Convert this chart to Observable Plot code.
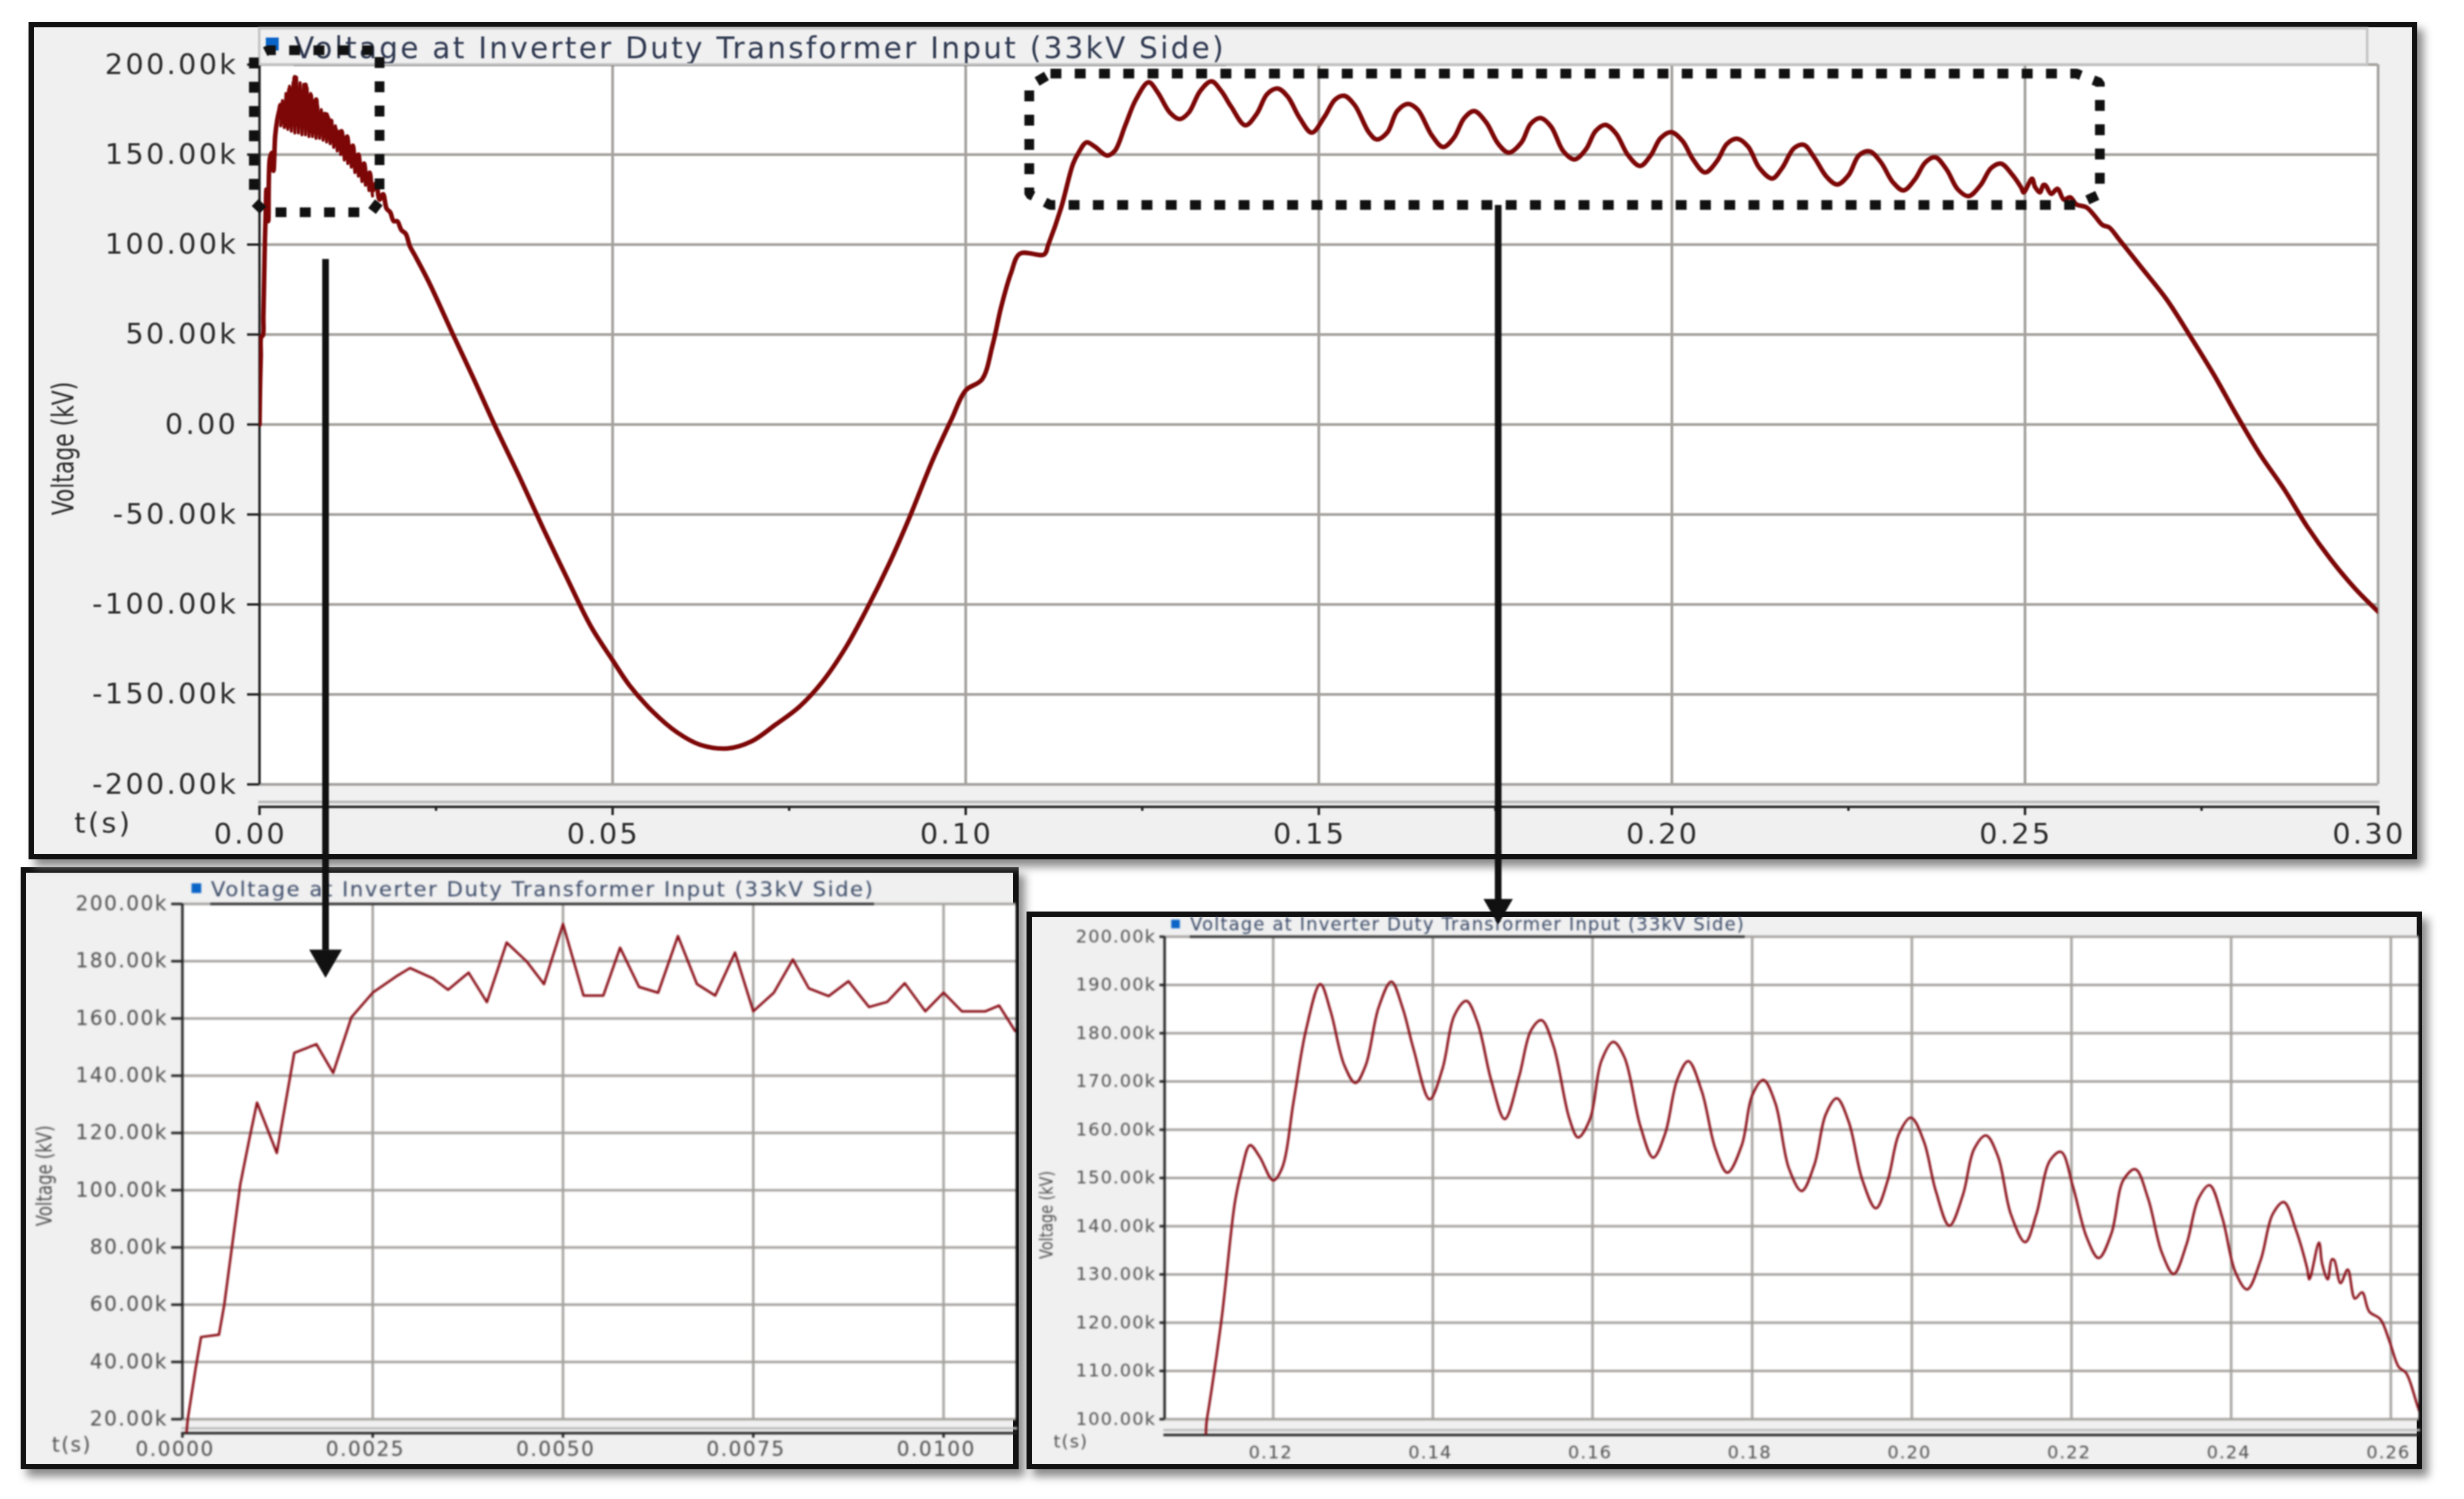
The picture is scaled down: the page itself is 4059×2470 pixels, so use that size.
<!DOCTYPE html>
<html>
<head>
<meta charset="utf-8">
<script src="https://cdn.jsdelivr.net/npm/d3@7"></script>
<script src="https://cdn.jsdelivr.net/npm/@observablehq/plot@0.6"></script>
<style>
html,body{margin:0;padding:0;background:#fff;width:4059px;height:2470px;overflow:hidden}
#page{position:relative;width:4059px;height:2470px}
.panel{position:absolute;box-sizing:border-box;background:#f0f0f0;border:9px solid #111;box-shadow:10px 12px 14px #8a8a8a}
.holder{position:absolute}
.holder svg{display:block;overflow:visible;background:transparent;max-width:none}
.soft svg{filter:blur(1.2px)}
.softer svg{filter:blur(1.5px)}
</style>
</head>
<body>
<div id="page"></div>
<script>
const legendText = "Voltage at Inverter Duty Transformer Input (33kV Side)";
const yLabel = "Voltage (kV)";
const xLabel = "t(s)";

// time (s) and voltage (kV)
const riseT = [0,0.00007,0.000175,0.000245,0.00048,0.00055,0.00066,0.00076,0.00088,0.00098,0.00124,0.00147,0.00176,0.00198,0.00222,0.0025,0.00281,0.00299,0.00329,0.00349,0.00376,0.004,0.00426,0.00452,0.00475,0.005,0.00527,0.00553,0.00575,0.006,0.00625,0.00651,0.00676,0.007,0.00726,0.0075,0.00777,0.00802,0.00823,0.00849,0.00875,0.00902,0.00926,0.00949,0.00976,0.01,0.01024,0.01055,0.01073,0.01094];
const riseV = [0,20,38,48.7,49.5,60,82,102,118,130.6,113,148,151,141,160.4,169,174.7,177.6,174,170,176,165.7,186.5,180,172,193,168,168,184.7,171,169,188.8,172,168,183,162.5,169,180.6,170.5,167.8,173,164,165.8,172.3,162.5,169,162.5,162.5,164.5,155.6];

const fallT = [0.0112,0.0116,0.012,0.0124,0.0128,0.0132,0.0136,0.014,0.0144,0.0148,0.0152,0.0156,0.016,0.0165,0.017,0.0175,0.018,0.0185,0.019,0.0195,0.0201,0.0207,0.0213,0.022,0.024,0.0274,0.0302,0.0335,0.0368,0.0402,0.0435,0.0469,0.05,0.0524,0.0558,0.0591,0.0624,0.0663,0.0697,0.073,0.0764,0.0797,0.083,0.0858,0.0892,0.092,0.0953,0.098,0.1,0.1023,0.1038,0.105,0.1064,0.1077,0.1111];
const fallV = [158,163,152,160,148,155,143,150,139,145,134,140,130,134,125,128,120,118,113,113,108,106,99,94,79,50,26.5,-2,-29,-58,-85,-112,-131,-145,-160,-171,-178,-180,-176,-167,-157,-143,-124,-104,-77,-52,-20,3,19,25,44,65,84,95,94.5];

const crestT = [0.1117,0.1135,0.1152,0.116,0.1171,0.1183,0.12,0.1211,0.1226,0.1241,0.1259,0.1272,0.1289,0.1303,0.1316,0.1332,0.1348,0.1362,0.1376,0.1396,0.1412,0.1427,0.1442,0.1456,0.1473,0.149,0.1508,0.1523,0.1536,0.1551,0.1571,0.1582,0.1597,0.1611,0.1626,0.164,0.166,0.1676,0.1691,0.1706,0.172,0.1737,0.1754,0.1769,0.1787,0.18,0.1814,0.1829,0.1846,0.1862,0.1878,0.1892,0.1906,0.1921,0.1938,0.1955,0.197,0.1984,0.1999,0.2015,0.203,0.2047,0.2064,0.2078,0.2093,0.2108,0.2124,0.2142,0.2156,0.2173,0.2187,0.2202,0.2219,0.2234,0.225,0.2265,0.228,0.2296,0.2313,0.2328,0.2344,0.2359,0.2373,0.2389,0.2405,0.242,0.2437,0.2452,0.2466,0.2481,0.2495,0.2498,0.251,0.2514,0.2521,0.2526,0.2529,0.2537,0.2546,0.2555,0.2564,0.2573,0.2587,0.2598,0.261,0.2619,0.2634];
const crestV = [100,120.3,144.9,151.2,156.8,154.4,149.5,152,166.3,180.6,190.2,184.5,173.4,169.7,173.4,185.3,190.7,185.3,176.6,166.3,172.6,183.7,186.7,182.2,170.3,162.2,171,180.6,182.7,177.4,162.3,158.4,162.3,174.2,178.2,175,160.7,154.2,159.2,170.3,174.2,167.9,156,151.1,156.8,167.1,170.3,165.5,152,147.3,152.8,163.1,166.5,161.6,149.6,143.7,149.6,159.2,162.5,157.6,147.3,140.1,146.5,156,158.8,154.4,142.5,136.7,142.5,153.6,155.4,148.1,137.7,133.4,138.5,149.6,151.8,145.7,134.6,130.1,136.2,145.7,148.5,141.7,130.6,126.9,133,142.5,145,139.3,131.4,129,136.6,132.2,129,133.1,133,128.2,131,125,126.3,122.3,120.7,116.3,110.8,109.6,102.5];

const tailT = [0.2666,0.27,0.2733,0.2767,0.28,0.2833,0.2867,0.29,0.2933,0.2967,0.3];
const tailV = [86.7,69.8,49.7,28,5,-16.7,-36,-57,-75,-91,-104];

// the dense ripple seen only at the top chart's coarser scale
const rippleT = [0.003,0.00325,0.0035,0.00375,0.004,0.00425,0.0045,0.00475,0.005,0.00525,0.0055,0.00575,0.006,0.00625,0.0065,0.00675,0.007,0.00725,0.0075,0.00775,0.008,0.00825,0.0085,0.00875,0.009,0.00925,0.0095,0.00975,0.01,0.01025,0.0105,0.01075,0.011,0.01125,0.0115,0.01175,0.012,0.01225,0.0125,0.01275,0.013,0.01325,0.0135,0.01375,0.014,0.01425,0.0145,0.01475,0.015,0.01525,0.0155,0.01575,0.016];
const rippleV = [166,180,165,184,164,188,163,190,162,193,162,190,161,189,161,187,160,184,160,180,159,177,159,175,158,173,157,171,156,169,154,166,152,163,150,160,147,157,145,154,143,151,140,148,138,145,135,142,133,139,130,136,127];

// tick values
const mainXTicks = [0,0.05,0.1,0.15,0.2,0.25,0.3];
const mainXMinor = [0.025,0.075,0.125,0.175,0.225,0.275];
const mainYTicks = [-200,-150,-100,-50,0,50,100,150,200];
const leftXTicks = [0,0.0025,0.005,0.0075,0.01];
const leftYTicks = [20,40,60,80,100,120,140,160,180,200];
const rightXTicks = [0.12,0.14,0.16,0.18,0.2,0.22,0.24,0.26];
const rightYTicks = [100,110,120,130,140,150,160,170,180,190,200];

// call-outs, in the top chart's own units (s, kV)
const boxAT = [-0.0008,-0.0008,0.0008,0.0158,0.017,0.017,0.0012,-0.0008];
const boxAV = [204,124,118,118,124,208,208,204];
const boxBT = [0.1120,0.2573,0.2606,0.2606,0.2573,0.1120,0.1090,0.1090,0.1120];
const boxBV = [195,195,190,128,122,122,128,188,195];
const arrowAT = [0.00935,0.00935];
const arrowAV = [92,-292];
const arrowBT = [0.1754,0.1754];
const arrowBV = [122,-264];

const series = [
  ...riseT.map((t,i)=>({t,v:riseV[i]})),
  ...fallT.map((t,i)=>({t,v:fallV[i]})),
  ...crestT.map((t,i)=>({t,v:crestV[i]})),
  ...tailT.map((t,i)=>({t,v:tailV[i]}))
];

const fmtV = d => d===0 ? "0.00" : d.toFixed(2)+"k";
const page = document.getElementById("page");
const xy = (ts,vs) => ts.map((t,i)=>({t,v:vs[i]}));

function panel(o){
  const w=o.right-o.left, h=o.bottom-o.top;
  const f=document.createElement("div");
  f.className="panel";
  Object.assign(f.style,{left:o.left+"px",top:o.top+"px",width:w+"px",height:h+"px",zIndex:o.z});
  page.appendChild(f);
  const [x0,x1]=o.xDomain,[y0,y1]=o.yDomain;
  const gridX=o.xTicks.filter(d=>d>x0);
  const marks=[
    Plot.rect([{}],{x1:x0,x2:x1,y1:y0,y2:y1,fill:"white"}),
    Plot.ruleX(gridX,{y1:y0,y2:y1,stroke:"#a5a29e",strokeWidth:o.gridW}),
    Plot.ruleY(o.yTicks,{x1:x0,x2:x1,stroke:"#a5a29e",strokeWidth:o.gridW}),
    Plot.ruleX([x0],{y1:y0,y2:y1,stroke:"#222",strokeWidth:o.axisW}),
    Plot.frame({anchor:"bottom",stroke:"#222",strokeWidth:o.axisW}),
    Plot.frame({anchor:"bottom",dy:-o.bandGap,stroke:"#bdbdbd",strokeWidth:o.gridW}),
    Plot.axisX(o.xTicks,{anchor:"bottom",tickSize:o.xTick,tickFormat:()=>"",label:null,stroke:"#222",strokeWidth:o.axisW}),
    ...(o.xMinor?[Plot.axisX(o.xMinor,{anchor:"bottom",tickSize:o.xTick/2,tickFormat:()=>"",label:null,stroke:"#222",strokeWidth:o.axisW})]:[]),
    Plot.axisX(o.xTicks,{anchor:"bottom",tickSize:0,tickPadding:o.xPad,dx:o.xLabelDx,tickFormat:o.xFormat,label:null,fontSize:o.font,fill:o.ink}),
    Plot.axisY(o.yTicks,{anchor:"left",tickSize:o.yTick,tickPadding:o.yPad,tickFormat:fmtV,label:null,fontSize:o.font,fill:o.ink,stroke:"#222",strokeWidth:o.axisW}),
    Plot.line(series,{x:"t",y:"v",stroke:o.lineColor,strokeWidth:o.lineW,clip:true,curve:o.curve,strokeLinejoin:"round"}),
    Plot.text([yLabel],{frameAnchor:"left",textAnchor:"middle",rotate:-90,dx:o.yLabelDx,dy:o.yLabelDy,fontSize:o.yLabelFont,fill:o.ink,className:"ylab"}),
    Plot.text([xLabel],{frameAnchor:"bottom-left",dx:o.xLabelX,dy:o.xLabelY,fontSize:o.font,textAnchor:"start",fill:o.ink}),
    Plot.dot([{}],{frameAnchor:"top-left",dx:o.keyX,dy:o.keyY,r:o.keyR,symbol:"square",fill:"#0a64c8"}),
    Plot.text([legendText],{frameAnchor:"top-left",dx:o.legX,dy:o.legY,fontSize:o.legFont,textAnchor:"start",fill:o.legInk,className:"legend-label"}),
    Plot.ruleY([y1],{x1:o.legT1,x2:o.legT2,stroke:"#333",strokeWidth:o.axisW}),
    ...(o.extra||[])
  ];
  const svg=Plot.plot({
    width:w,height:h,
    marginLeft:o.plotL-o.left,marginRight:o.right-o.plotR,marginTop:o.plotT-o.top,marginBottom:o.bottom-o.axisY,
    x:{domain:o.xDomain,axis:null},
    y:{domain:o.yDomain,axis:null,insetBottom:o.axisY-o.plotB},
    style:{background:"transparent",fontFamily:"'DejaVu Sans',sans-serif",letterSpacing:o.spacing,overflow:"visible"},
    marks
  });
  svg.querySelectorAll(".legend-label text").forEach(t=>{t.setAttribute("textLength",o.legLen);t.setAttribute("lengthAdjust","spacingAndGlyphs");});
  svg.querySelectorAll(".ylab text").forEach(t=>{t.setAttribute("textLength",o.yLabLen);t.setAttribute("lengthAdjust","spacingAndGlyphs");t.style.letterSpacing="0";});
  const box=document.createElement("div");
  box.className="holder "+(o.soft||"");
  Object.assign(box.style,{left:o.left+"px",top:o.top+"px",width:w+"px",height:h+"px",zIndex:o.z});
  box.appendChild(svg);
  page.appendChild(box);
}

const dotted={x:"t",y:"v",stroke:"#111",strokeWidth:16,strokeDasharray:"18 22",strokeLinecap:"butt",strokeLinejoin:"miter"};
panel({
  left:47,top:36,right:3982,bottom:1416,z:5,soft:"soft",
  plotL:427,plotR:3917,plotT:106,plotB:1292,axisY:1329,
  xDomain:[0,0.3],yDomain:[-200,200],xTicks:mainXTicks,xMinor:mainXMinor,yTicks:mainYTicks,
  xFormat:d=>d.toFixed(2),curve:"catmull-rom",
  font:47,spacing:"4px",ink:"#2b2b2b",gridW:4.5,axisW:4,lineW:7.5,lineColor:"#7d0606",
  xTick:14,yTick:20,xPad:27,yPad:15,xLabelDx:-15,bandGap:8,
  yLabelDx:-323,yLabelDy:21,yLabelFont:50,yLabLen:220,
  xLabelX:-305,xLabelY:42,
  keyX:21,keyY:-34,keyR:12,legX:57,legY:-46,legFont:50,legLen:1535,legInk:"#303a52",legT1:0.0049,legT2:0.1369,
  extra:[
    Plot.line(xy(rippleT,rippleV),{x:"t",y:"v",stroke:"#7d0606",strokeWidth:5}),
    Plot.rect([{}],{x1:0,x2:0.2985,y1:200,y2:220,fill:"none",stroke:"#c4c4c4",strokeWidth:4}),
    Plot.line(xy(boxAT,boxAV),dotted),
    Plot.line(xy(boxBT,boxBV),dotted),
    Plot.line(xy(arrowAT,arrowAV),{x:"t",y:"v",stroke:"#111",strokeWidth:11,strokeLinecap:"butt"}),
    Plot.line(xy(arrowBT,arrowBV),{x:"t",y:"v",stroke:"#111",strokeWidth:11,strokeLinecap:"butt"}),
    Plot.dot([{t:arrowAT[1],v:arrowAV[1]}],{x:"t",y:"v",symbol:"triangle",rotate:180,r:20,dy:15,fill:"#111"}),
    Plot.dot([{t:arrowBT[1],v:arrowBV[1]}],{x:"t",y:"v",symbol:"triangle",rotate:180,r:18,dy:13,fill:"#111"})
  ]
});
panel({
  left:34,top:1429,right:1678,bottom:2421,z:2,soft:"softer",
  plotL:300,plotR:1673,plotT:1489,plotB:2338,axisY:2361,
  xDomain:[0,0.01095],yDomain:[20,200],xTicks:leftXTicks,yTicks:leftYTicks,
  xFormat:d=>d.toFixed(4),curve:"linear",
  font:33,spacing:"2.5px",ink:"#4e4e4e",gridW:4,axisW:4,lineW:4,lineColor:"#8a0f18",
  xTick:8,yTick:18,xPad:14,yPad:6,xLabelDx:-12,bandGap:8,
  yLabelDx:-227,yLabelDy:12,yLabelFont:36,yLabLen:166,
  xLabelX:-215,xLabelY:30,
  keyX:23,keyY:-26,keyR:9,legX:47,legY:-37,legFont:34,legLen:1093,legInk:"#3a4a68",legT1:0.00037,legT2:0.00909
});
panel({
  left:1691,top:1502,right:3990,bottom:2421,z:3,soft:"softer",
  plotL:1918,plotR:3984,plotT:1543,plotB:2338,axisY:2364,
  xDomain:[0.1064,0.2635],yDomain:[100,200],xTicks:rightXTicks,yTicks:rightYTicks,
  xFormat:d=>d.toFixed(2),curve:"catmull-rom",
  font:29,spacing:"2px",ink:"#4e4e4e",gridW:4,axisW:4,lineW:4,lineColor:"#8a0f18",
  xTick:0,yTick:8,xPad:18,yPad:6,xLabelDx:-4,bandGap:8,
  yLabelDx:-194,yLabelDy:48,yLabelFont:30,yLabLen:145,
  xLabelX:-183,xLabelY:20,
  keyX:18,keyY:-21,keyR:8,legX:42,legY:-32,legFont:30,legLen:914,legInk:"#3a4a68",legT1:0.1096,legT2:0.1791
});
</script>
</body>
</html>
